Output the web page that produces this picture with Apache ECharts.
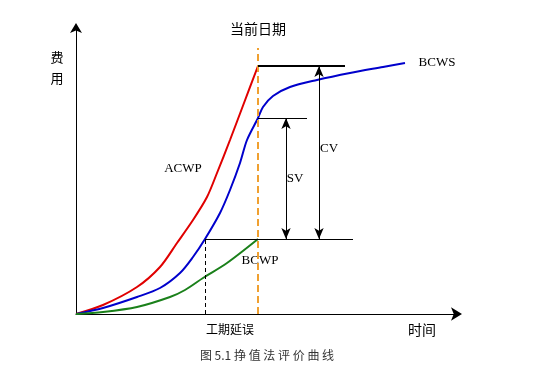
<!DOCTYPE html>
<html><head><meta charset="utf-8">
<script src="https://cdn.jsdelivr.net/npm/echarts@6/dist/echarts.min.js"></script>
<style>html,body{margin:0;padding:0;background:#fff}#c{width:554px;height:375px}</style>
</head><body><div id="c"></div>
<script>
// time (x) and cost (y) values
const acwp = [[0,0],[27,9],[61,27],[84,47],[101,71],[117,94],[131,117],[141,141],[154,174],[168,211],[182,248]];
const bcws = [[0,0],[27,6],[61,17],[84,26],[104,41],[117,57],[129,75],[144,101],[154,124],[164,151],[171,174],[182,196],[187,207],[197,218],[214,227],[241,234],[274,241],[307,247],[329,251]];
const bcwp = [[0,0],[27,2],[61,7],[94,17],[109,24],[127,36],[151,51],[182,75]];
const currentDate = 182;
const delayTime = 129;
const cvTime = 243;
const svTime = 210;
const acwpNow = 248, bcwsNow = 196, bcwpNow = 75;
const dateTop = 266;
const lineEnds = {acwp: 269, bcws: 231, bcwp: 277};

const chart = echarts.init(document.getElementById('c'));
const serif = 'Liberation Serif';
const cjk = 'Noto Sans CJK SC';
function seg(a, b, style, sym) {
  return [{coord: a, symbol: sym ? sym[0] : 'none', lineStyle: style}, {coord: b, symbol: sym ? sym[1] : 'none'}];
}
const lineBase = {type: 'line', smooth: 0.3, showSymbol: false, z: 3};
chart.setOption({
  animation: false,
  grid: {left: 76, right: 97, top: 28, bottom: 61},
  xAxis: {type: 'value', min: 0, max: 381, splitLine: {show: false}, axisTick: {show: false}, axisLabel: {show: false},
    axisLine: {lineStyle: {color: '#000', width: 1}, symbol: ['none', 'arrow'], symbolSize: [10, 11], symbolOffset: [0, 5]}},
  yAxis: {type: 'value', min: 0, max: 286, splitLine: {show: false}, axisTick: {show: false}, axisLabel: {show: false},
    axisLine: {lineStyle: {color: '#000', width: 1}, symbol: ['none', 'arrow'], symbolSize: [9, 10], symbolOffset: [0, 5]}},
  series: [
    Object.assign({}, lineBase, {data: acwp, lineStyle: {color: '#e00000', width: 2}}),
    Object.assign({}, lineBase, {data: bcws, lineStyle: {color: '#0000cc', width: 2}}),
    Object.assign({}, lineBase, {data: bcwp, lineStyle: {color: '#1a801a', width: 2},
      markLine: {silent: true, symbol: 'none', animation: false, label: {show: false}, symbolSize: [7, 11],
        data: [
          seg([currentDate, 0], [currentDate, dateTop], {color: '#f0a030', width: 2, type: [7, 4]}),
          seg([currentDate, acwpNow], [lineEnds.acwp, acwpNow], {color: '#000', width: 2, type: 'solid'}),
          seg([currentDate, bcwsNow], [lineEnds.bcws, bcwsNow], {color: '#000', width: 1, type: 'solid'}),
          seg([delayTime, bcwpNow], [lineEnds.bcwp, bcwpNow], {color: '#000', width: 1, type: 'solid'}),
          seg([delayTime, 0], [delayTime, bcwpNow], {color: '#000', width: 1, type: [4, 3]}),
          seg([svTime, bcwpNow], [svTime, bcwsNow], {color: '#000', width: 1, type: 'solid'}, ['arrow', 'arrow']),
          seg([cvTime, bcwpNow], [cvTime, acwpNow], {color: '#000', width: 1, type: 'solid'}, ['arrow', 'arrow'])
        ]}})
  ],
  graphic: [
    {type: 'text', x: 258, y: 29, style: {text: '当前日期', font: '14px ' + cjk, fill: '#000', align: 'center', verticalAlign: 'middle'}},
    {type: 'text', x: 57, y: 57, style: {text: '费', font: '13px ' + cjk, fill: '#000', align: 'center', verticalAlign: 'middle'}},
    {type: 'text', x: 57, y: 78, style: {text: '用', font: '13px ' + cjk, fill: '#000', align: 'center', verticalAlign: 'middle'}},
    {type: 'text', x: 183, y: 169, style: {text: 'ACWP', font: '13px ' + serif, fill: '#000', align: 'center', verticalAlign: 'middle'}},
    {type: 'text', x: 437, y: 63, style: {text: 'BCWS', font: '13px ' + serif, fill: '#000', align: 'center', verticalAlign: 'middle'}},
    {type: 'text', x: 329, y: 149, style: {text: 'CV', font: '13px ' + serif, fill: '#000', align: 'center', verticalAlign: 'middle'}},
    {type: 'text', x: 295, y: 179, style: {text: 'SV', font: '13px ' + serif, fill: '#000', align: 'center', verticalAlign: 'middle'}},
    {type: 'text', x: 260, y: 261, style: {text: 'BCWP', font: '13px ' + serif, fill: '#000', align: 'center', verticalAlign: 'middle'}},
    {type: 'text', x: 230, y: 329, style: {text: '工期延误', font: '12px ' + cjk, fill: '#000', align: 'center', verticalAlign: 'middle'}},
    {type: 'text', x: 422, y: 330, style: {text: '时间', font: '14px ' + cjk, fill: '#000', align: 'center', verticalAlign: 'middle'}},
    {type: 'text', x: 267, y: 355, style: {text: '图 5.1 挣 值 法 评 价 曲 线', font: '12px ' + cjk, fill: '#333', align: 'center', verticalAlign: 'middle'}}
  ]
});
</script></body></html>
